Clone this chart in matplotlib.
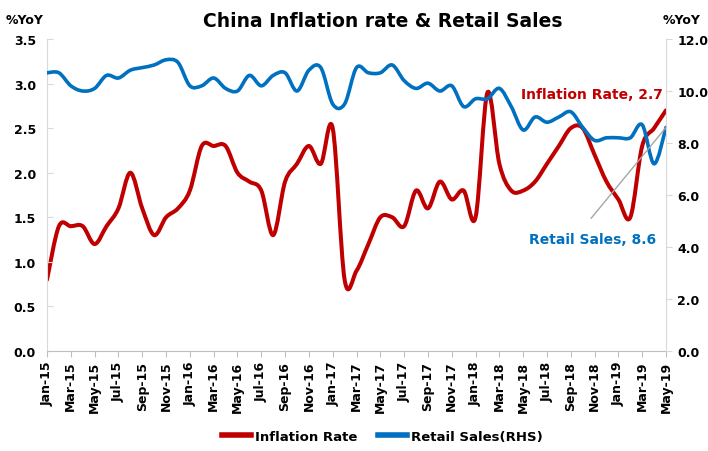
import matplotlib
matplotlib.use("Agg")
import matplotlib.pyplot as plt
from matplotlib.path import Path
from matplotlib.patches import PathPatch
from matplotlib.lines import Line2D

months = ["Jan-15", "Feb-15", "Mar-15", "Apr-15", "May-15", "Jun-15", "Jul-15", "Aug-15",
          "Sep-15", "Oct-15", "Nov-15", "Dec-15", "Jan-16", "Feb-16", "Mar-16", "Apr-16",
          "May-16", "Jun-16", "Jul-16", "Aug-16", "Sep-16", "Oct-16", "Nov-16", "Dec-16",
          "Jan-17", "Feb-17", "Mar-17", "Apr-17", "May-17", "Jun-17", "Jul-17", "Aug-17",
          "Sep-17", "Oct-17", "Nov-17", "Dec-17", "Jan-18", "Feb-18", "Mar-18", "Apr-18",
          "May-18", "Jun-18", "Jul-18", "Aug-18", "Sep-18", "Oct-18", "Nov-18", "Dec-18",
          "Jan-19", "Feb-19", "Mar-19", "Apr-19", "May-19"]
inflation = [0.8, 1.4, 1.4, 1.4, 1.2, 1.4, 1.6, 2.0, 1.6, 1.3, 1.5, 1.6,
             1.8, 2.3, 2.3, 2.3, 2.0, 1.9, 1.8, 1.3, 1.9, 2.1, 2.3, 2.1,
             2.5, 0.8, 0.9, 1.2, 1.5, 1.5, 1.4, 1.8, 1.6, 1.9, 1.7, 1.8,
             1.5, 2.9, 2.1, 1.8, 1.8, 1.9, 2.1, 2.3, 2.5, 2.5, 2.2, 1.9,
             1.7, 1.5, 2.3, 2.5, 2.7]
retail = [10.7, 10.7, 10.2, 10.0, 10.1, 10.6, 10.5, 10.8, 10.9, 11.0, 11.2, 11.1,
          10.2, 10.2, 10.5, 10.1, 10.0, 10.6, 10.2, 10.6, 10.7, 10.0, 10.8, 10.9,
          9.5, 9.5, 10.9, 10.7, 10.7, 11.0, 10.4, 10.1, 10.3, 10.0, 10.2, 9.4,
          9.7, 9.7, 10.1, 9.4, 8.5, 9.0, 8.8, 9.0, 9.2, 8.6, 8.1, 8.2,
          8.2, 8.2, 8.7, 7.2, 8.6]

RED = "#C00000"
BLUE = "#0070C0"


def smooth_path(xs, ys):
    # excel style smoothed line: cubic bezier segments through the points
    n = len(xs)
    verts = [(xs[0], ys[0])]
    codes = [Path.MOVETO]
    for i in range(n - 1):
        a = max(i - 1, 0)
        b = min(i + 2, n - 1)
        c1 = (xs[i] + (xs[i + 1] - xs[a]) / 6, ys[i] + (ys[i + 1] - ys[a]) / 6)
        c2 = (xs[i + 1] - (xs[b] - xs[i]) / 6, ys[i + 1] - (ys[b] - ys[i]) / 6)
        verts += [c1, c2, (xs[i + 1], ys[i + 1])]
        codes += [Path.CURVE4] * 3
    return Path(verts, codes)


x = list(range(len(months)))

fig = plt.figure(figsize=(7.08, 4.52), dpi=100)
ax = fig.add_axes([0.0664, 0.2212, 0.8743, 0.6903])
ax2 = ax.twinx()

ax.add_patch(PathPatch(smooth_path(x, inflation), fill=False, edgecolor=RED, lw=2.9,
                       capstyle="round", joinstyle="round"))
ax2.add_patch(PathPatch(smooth_path(x, retail), fill=False, edgecolor=BLUE, lw=2.6,
                        capstyle="round", joinstyle="round"))

ax.set_xlim(0, len(months) - 1)
ax.set_ylim(0, 3.5)
ax2.set_ylim(0, 12)

ax.set_yticks([i * 0.5 for i in range(8)])
ax.set_yticklabels([f"{i * 0.5:.1f}" for i in range(8)], fontsize=9, fontweight="bold")
ax2.set_yticks([i * 2 for i in range(7)])
ax2.set_yticklabels([f"{i * 2:.1f}" for i in range(7)], fontsize=9, fontweight="bold")

ax.set_xticks(x[::2])
ax.set_xticklabels(months[::2], rotation=90, fontsize=9, fontweight="bold",
                   family=["Liberation Sans Narrow", "DejaVu Sans"])

ax.spines["top"].set_visible(False)
ax2.spines["top"].set_visible(False)
ax.spines["left"].set_color("#d9d9d9")
ax2.spines["right"].set_color("#d9d9d9")
ax.spines["right"].set_visible(False)
ax2.spines["left"].set_visible(False)
ax.spines["bottom"].set_color("#bfbfbf")
ax2.spines["bottom"].set_visible(False)

ax.tick_params(axis="y", direction="in", length=4, color="#d9d9d9", pad=8)
ax2.tick_params(axis="y", direction="out", length=4, color="#d9d9d9", pad=4)
ax.tick_params(axis="x", direction="out", length=4, color="#bfbfbf", pad=3)

fig.text(0.541, 0.952, "China Inflation rate & Retail Sales", fontsize=13.5,
         fontweight="bold", ha="center", va="center")
fig.text(0.008, 0.955, "%YoY", fontsize=9, fontweight="bold", ha="left", va="center")
fig.text(0.99, 0.955, "%YoY", fontsize=9, fontweight="bold", ha="right", va="center")

ax.text(51.75, 2.88, "Inflation Rate, 2.7", color=RED, fontsize=10, fontweight="bold",
        ha="right", va="center")
ax2.text(45.8, 4.31, "Retail Sales, 8.6", color=BLUE, fontsize=10, fontweight="bold",
         ha="center", va="center")
ax2.annotate("", xy=(x[-1], retail[-1]), xytext=(45.7, 5.1),
             arrowprops=dict(arrowstyle="-", color="#a6a6a6", lw=1, shrinkA=0, shrinkB=0))

handles = [Line2D([], [], color=RED, lw=4), Line2D([], [], color=BLUE, lw=4)]
fig.legend(handles, ["Inflation Rate", "Retail Sales(RHS)"], loc="center",
           bbox_to_anchor=(0.54, 0.033), ncol=2, frameon=False, handlelength=2.2,
           prop=dict(size=9.5, weight="bold"), columnspacing=1.6, handletextpad=0.3)

fig.savefig("out.png", dpi=100)
